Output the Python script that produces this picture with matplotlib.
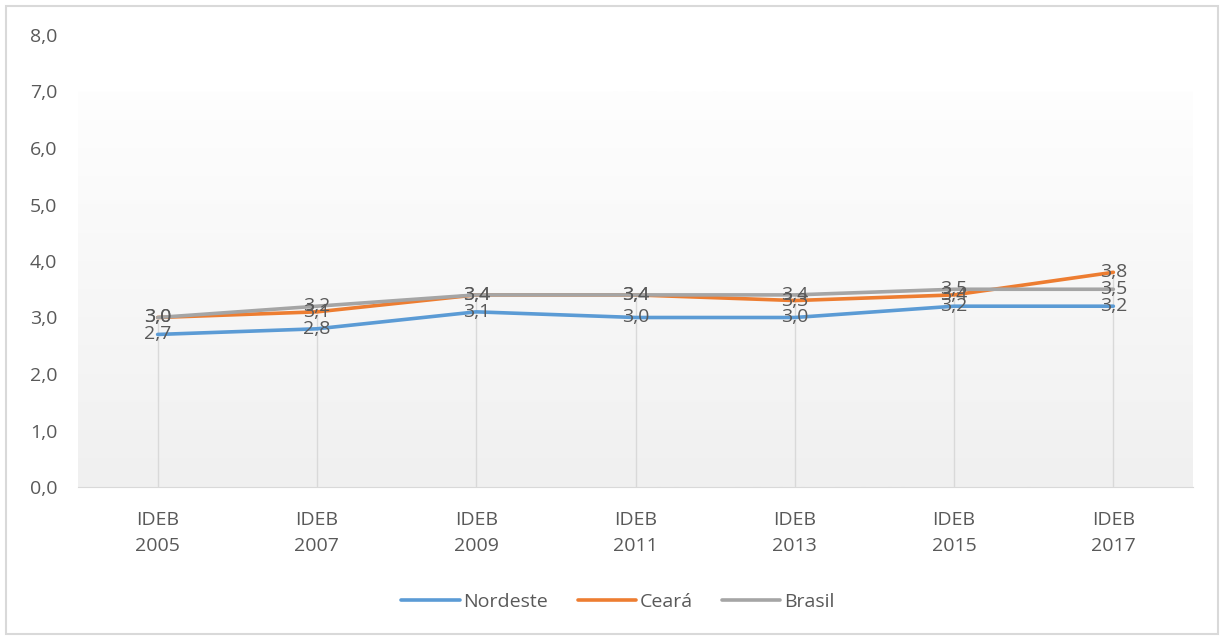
import numpy as np
import matplotlib.pyplot as plt
from matplotlib.patches import Rectangle

plt.rcParams['font.family'] = ['Open Sans', 'DejaVu Sans']

categorias = ["IDEB\n2005", "IDEB\n2007", "IDEB\n2009", "IDEB\n2011",
              "IDEB\n2013", "IDEB\n2015", "IDEB\n2017"]
nordeste = [2.7, 2.8, 3.1, 3.0, 3.0, 3.2, 3.2]
ceara = [3.0, 3.1, 3.4, 3.4, 3.3, 3.4, 3.8]
brasil = [3.0, 3.2, 3.4, 3.4, 3.4, 3.5, 3.5]

series = [("Nordeste", nordeste, "#5B9BD5"),
          ("Ceará", ceara, "#ED7D31"),
          ("Brasil", brasil, "#A5A5A5")]

fig = plt.figure(figsize=(12.22, 6.36), dpi=100)
ax = fig.add_axes([78 / 1222, 1 - 487 / 636, (1193 - 78) / 1222, (487 - 35) / 636])

x = np.arange(len(categorias))
ax.set_xlim(-0.5, len(categorias) - 0.5)
ax.set_ylim(0, 8)

# fundo em degradê (de 0 a 7)
grad = np.linspace(0, 1, 256).reshape(-1, 1)
cmap = plt.matplotlib.colors.LinearSegmentedColormap.from_list("g", ["#f0f0f0", "#fefefe"])
ax.imshow(grad, extent=[-0.5, len(categorias) - 0.5, 0, 7], origin="lower",
          aspect="auto", cmap=cmap, zorder=0)

# linhas de queda
topo = np.max([nordeste, ceara, brasil], axis=0)
ax.vlines(x, 0, topo, color="#d9d9d9", lw=1, zorder=1)

for nome, vals, cor in series:
    ax.plot(x, vals, color=cor, lw=2.6, label=nome, zorder=2, solid_capstyle="round")

for nome, vals, cor in series:
    for xi, v in zip(x, vals):
        ax.text(xi, v, f"{v:.1f}".replace(".", ","), ha="center", va="center",
                fontsize=14, color="#595959", zorder=3)

ax.set_xticks(x)
ax.set_xticklabels(categorias, fontsize=14, color="#595959", linespacing=1.6)
ax.set_yticks(np.arange(0, 9))
ax.set_yticklabels([f"{v:.1f}".replace(".", ",") for v in range(9)],
                   fontsize=14, color="#595959")
ax.tick_params(length=0, axis="both")
ax.tick_params(axis="x", pad=17)
ax.tick_params(axis="y", pad=15)
for s in ["top", "right", "left"]:
    ax.spines[s].set_visible(False)
ax.spines["bottom"].set_color("#d9d9d9")

fig.legend(loc="center", bbox_to_anchor=(618 / 1222, 1 - 602 / 636), ncol=3,
           frameon=False, fontsize=14, labelcolor="#595959", handlelength=3.0,
           handletextpad=0.2, columnspacing=1.5)

fig.patches.append(Rectangle((6 / 1222, 2 / 636), 1212 / 1222, 628 / 636,
                             transform=fig.transFigure, fill=False,
                             edgecolor="#d9d9d9", lw=1.5))

fig.savefig("out.png", dpi=100)
